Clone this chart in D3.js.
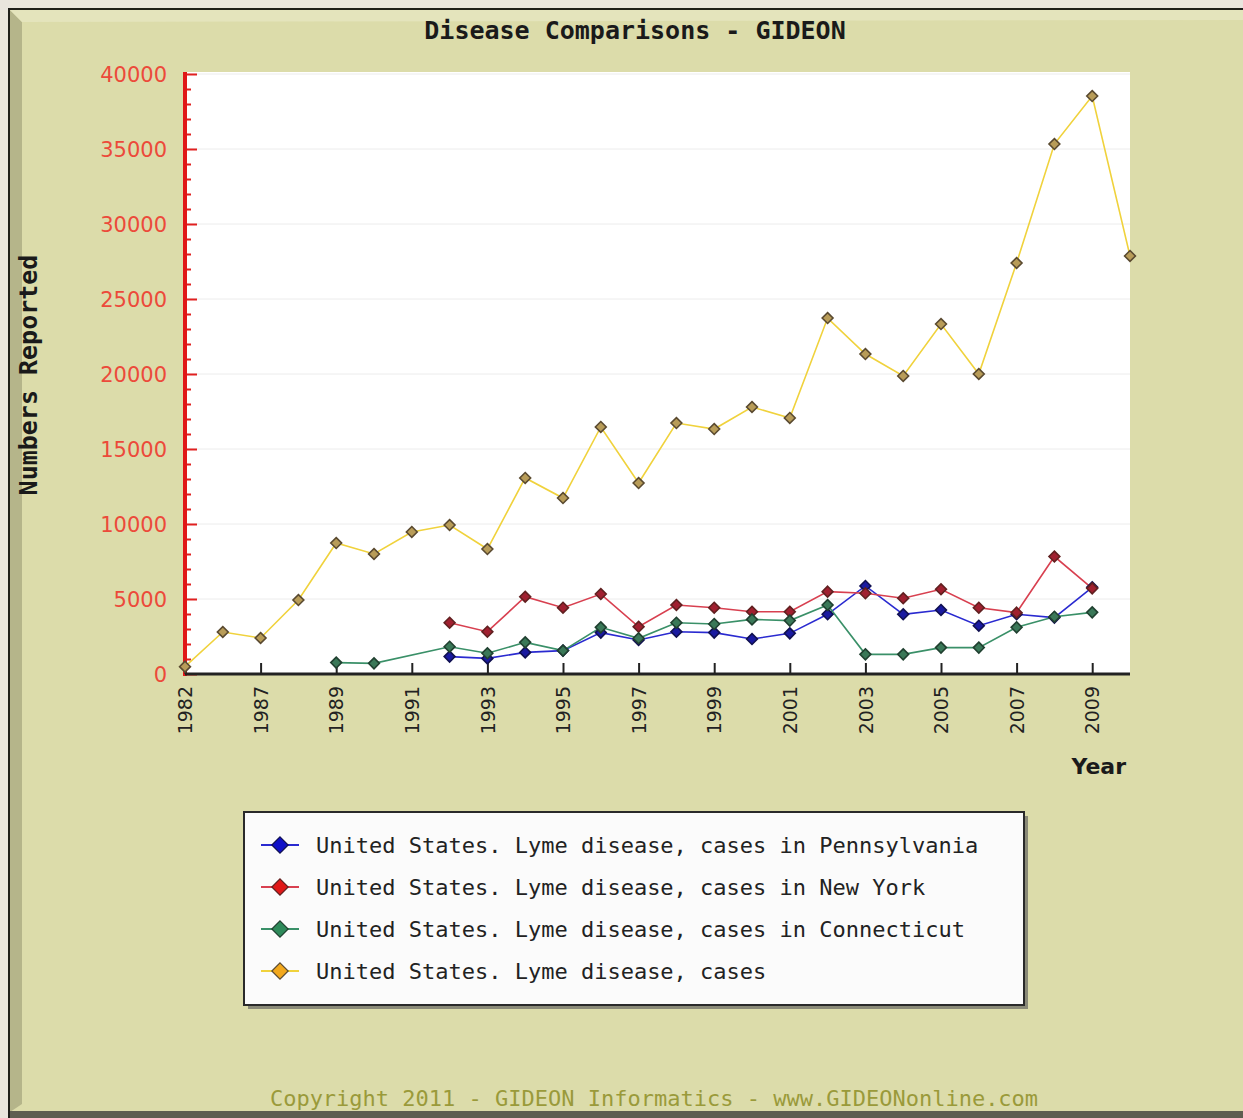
<!DOCTYPE html>
<html>
<head>
<meta charset="utf-8">
<script src="https://cdn.jsdelivr.net/npm/d3@7"></script>
<style>
  html, body { margin: 0; padding: 0; background: #e9e5dd; }
  svg { display: block; }
</style>
</head>
<body>
<svg id="chart" width="1243" height="1118"></svg>
<script>
// years on the category axis (1983-1985 absent in the source)
const years = ["1982","1986","1987","1988","1989","1990","1991","1992","1993","1994","1995",
  "1996","1997","1998","1999","2000","2001","2002","2003","2004","2005","2006","2007","2008","2009","2010"];

// cases per year, null = no report
const pennsylvania = [null,null,null,null,null,null,null,1160,1040,1440,1560,
  2760,2270,2820,2760,2330,2710,3980,5870,3980,4270,3220,3980,3760,5780,null];
const newYork = [null,null,null,null,null,null,null,3420,2820,5150,4420,
  5330,3150,4600,4420,4150,4150,5490,5380,5050,5650,4420,4090,7830,5710,null];
const connecticut = [null,null,null,null,760,710,null,1820,1380,2110,1560,
  3110,2380,3420,3330,3640,3560,4600,1310,1310,1760,1760,3110,3820,4110,null];
const usTotal = [491,2800,2400,4930,8730,8000,9470,9930,8330,13070,11730,
  16470,12730,16730,16330,17800,17070,23730,21330,19870,23330,20000,27400,35330,38530,27870];

const seriesNames = [
  "United States. Lyme disease, cases in Pennsylvania",
  "United States. Lyme disease, cases in New York",
  "United States. Lyme disease, cases in Connecticut",
  "United States. Lyme disease, cases"
];
const yTicks = [0,5000,10000,15000,20000,25000,30000,35000,40000];

const series = [
  { name: seriesNames[0], values: pennsylvania, line: "#2a2ad0", marker: "#1010c8", stroke: "#101050", dot: "#1a1aa0" },
  { name: seriesNames[1], values: newYork, line: "#d84050", marker: "#e01818", stroke: "#602020", dot: "#a02030" },
  { name: seriesNames[2], values: connecticut, line: "#3a9068", marker: "#2e8a5a", stroke: "#204030", dot: "#3a7858" },
  { name: seriesNames[3], values: usTotal, line: "#f0d23c", marker: "#f2a81c", stroke: "#5a4a30", dot: "#b89c58" }
];

const svg = d3.select("#chart");
const mono = "'DejaVu Sans Mono', 'Liberation Mono', monospace";
const sans = "'DejaVu Sans', Verdana, sans-serif";

// panel with a bevelled edge
svg.append("rect").attr("x", 8).attr("y", 8).attr("width", 1235).attr("height", 1110)
  .attr("fill", "#1e1e1a");
svg.append("rect").attr("x", 10).attr("y", 10).attr("width", 1233).attr("height", 1108)
  .attr("fill", "#dcdcaa");
svg.append("polygon").attr("points", "10,10 22,22 22,1104 10,1112").attr("fill", "#b5b58a");
svg.append("polygon").attr("points", "10,10 1243,10 1243,20 22,22").attr("fill", "#e4e4bc");
svg.append("rect").attr("x", 10).attr("y", 1111).attr("width", 1233).attr("height", 7).attr("fill", "#5e5e50");

const x = d3.scalePoint().domain(years).range([185, 1130]);
const y = d3.scaleLinear().domain([0, 40000]).range([674, 74]);

// plot area
svg.append("rect").attr("x", 185).attr("y", 72).attr("width", 945).attr("height", 602).attr("fill", "#ffffff");

// grid
svg.append("g").selectAll("line").data(yTicks.slice(1)).join("line")
  .attr("x1", 185).attr("x2", 1130)
  .attr("y1", d => y(d)).attr("y2", d => y(d))
  .attr("stroke", "#ececec").attr("stroke-width", 1);

// y axis: red, major and minor ticks inside
const yAxis = svg.append("g").attr("transform", "translate(185,0)")
  .call(d3.axisRight(y).tickValues(d3.range(0, 40001, 1000)).tickSize(6).tickFormat(""));
yAxis.select(".domain").remove();
yAxis.selectAll(".tick line").attr("stroke", "#e02020").attr("stroke-width", 2)
  .attr("x2", d => d % 5000 === 0 ? 12 : 6);
svg.append("line").attr("x1", 185).attr("x2", 185).attr("y1", 72).attr("y2", 676)
  .attr("stroke", "#e01818").attr("stroke-width", 4);

svg.append("g").selectAll("text").data(yTicks).join("text")
  .attr("x", 167).attr("y", d => y(d) + 8)
  .attr("text-anchor", "end")
  .attr("font-family", sans).attr("font-size", 21)
  .attr("fill", "#ec4a3a")
  .text(d => d);

// x axis
const xAxis = svg.append("g").attr("transform", "translate(0,674)")
  .call(d3.axisBottom(x).tickValues(years.filter((d, i) => i % 2 === 0 && i < 25)).tickSize(-11).tickSizeOuter(0));
xAxis.select(".domain").attr("d", "M185,0H1130").attr("stroke", "#222").attr("stroke-width", 3);
xAxis.selectAll(".tick line").attr("stroke", "#222").attr("stroke-width", 2);
xAxis.selectAll(".tick text")
  .attr("transform", "rotate(-90)")
  .attr("x", -12).attr("y", 0).attr("dy", "0.35em")
  .attr("text-anchor", "end")
  .attr("font-family", sans).attr("font-size", 19)
  .attr("fill", "#222");

// lines and markers
const diamond = d3.symbol().type(d3.symbolDiamond2).size(75);
const line = d3.line()
  .x(d => x(d.year)).y(d => y(d.v));

series.forEach(s => {
  const pts = s.values.map((v, i) => ({ year: years[i], v })).filter(d => d.v !== null);
  svg.append("path").datum(pts)
    .attr("fill", "none").attr("stroke", s.line).attr("stroke-width", 1.6)
    .attr("d", line);
});
series.forEach(s => {
  const pts = s.values.map((v, i) => ({ year: years[i], v })).filter(d => d.v !== null);
  svg.append("g").selectAll("path").data(pts).join("path")
    .attr("transform", d => `translate(${x(d.year)},${y(d.v)})`)
    .attr("d", diamond)
    .attr("fill", s.dot)
    .attr("stroke", s.stroke).attr("stroke-width", 1.6);
});

// titles
svg.append("text").attr("x", 635).attr("y", 39).attr("text-anchor", "middle")
  .attr("font-family", mono).attr("font-weight", "bold").attr("font-size", 25)
  .attr("fill", "#1a1a1a").text("Disease Comparisons - GIDEON");
svg.append("text").attr("transform", "translate(37,375) rotate(-90)").attr("text-anchor", "middle")
  .attr("font-family", mono).attr("font-weight", "bold").attr("font-size", 25)
  .attr("fill", "#1a1a1a").text("Numbers Reported");
svg.append("text").attr("x", 1126).attr("y", 774).attr("text-anchor", "end")
  .attr("font-family", sans).attr("font-weight", "bold").attr("font-size", 22)
  .attr("fill", "#1a1a1a").text("Year");

// legend
svg.append("rect").attr("x", 248).attr("y", 816).attr("width", 780).attr("height", 193).attr("fill", "#8a8a78");
svg.append("rect").attr("x", 244).attr("y", 812).attr("width", 780).attr("height", 193)
  .attr("fill", "#fbfbfb").attr("stroke", "#2a2a2a").attr("stroke-width", 2);
const legend = svg.append("g").selectAll("g").data(series).join("g")
  .attr("transform", (d, i) => `translate(0,${845 + i * 42})`);
legend.append("line").attr("x1", 261).attr("x2", 299)
  .attr("stroke", d => d.line).attr("stroke-width", 2);
legend.append("path").attr("transform", "translate(280,0)")
  .attr("d", d3.symbol().type(d3.symbolDiamond2).size(170))
  .attr("fill", d => d.marker).attr("stroke", d => d.stroke).attr("stroke-width", 1.2);
legend.append("text").attr("x", 316).attr("y", 8)
  .attr("font-family", mono).attr("font-size", 22)
  .attr("fill", "#222").text(d => d.name);

// footer
svg.append("text").attr("x", 654).attr("y", 1106).attr("text-anchor", "middle")
  .attr("font-family", mono).attr("font-size", 22)
  .attr("fill", "#9a9a3a").text("Copyright 2011 - GIDEON Informatics - www.GIDEONonline.com");
</script>
</body>
</html>
